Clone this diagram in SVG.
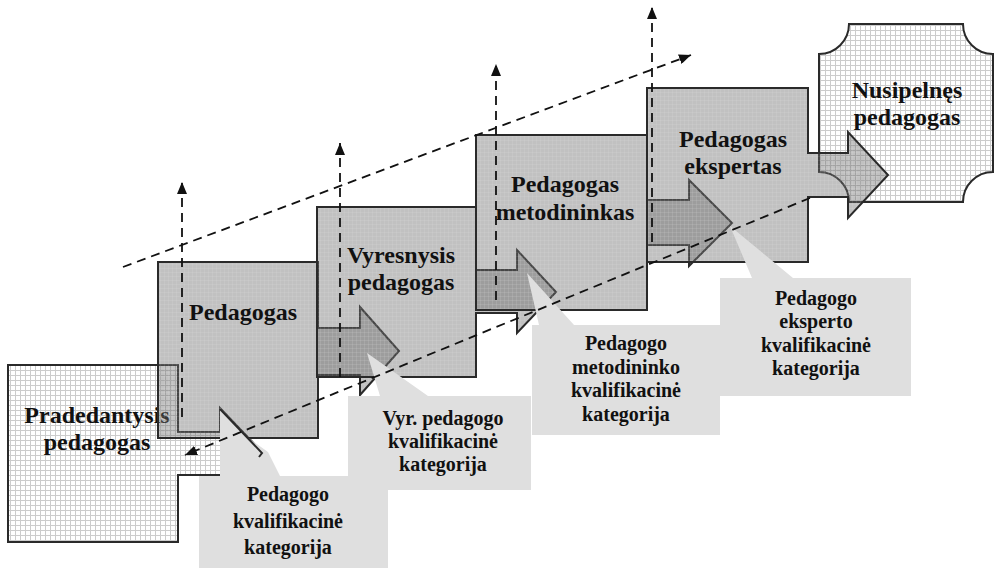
<svg xmlns="http://www.w3.org/2000/svg" width="994" height="571" viewBox="0 0 994 571">
<defs>
<pattern id="wgrid" width="5" height="5" patternUnits="userSpaceOnUse">
<rect width="5" height="5" fill="#ffffff"/>
<path d="M0,0.5 H5 M0.5,0 V5" stroke="#cccccc" stroke-width="1"/>
</pattern>
<pattern id="ggrid" width="4" height="4" patternUnits="userSpaceOnUse">
<rect width="4" height="4" fill="#6c6c6c" fill-opacity="0.42"/>
<path d="M0,0.5 H4 M0.5,0 V4" stroke="#ffffff" stroke-opacity="0.07" stroke-width="1"/>
</pattern>
<marker id="ah" viewBox="0 0 12 10" refX="12" refY="5" markerWidth="12" markerHeight="10" markerUnits="userSpaceOnUse" orient="auto">
<path d="M0,0 L12,5 L0,10 Z" fill="#111"/>
</marker>
</defs>
<style>
.blk{stroke:#2a2a2a;stroke-width:2;stroke-linejoin:miter}
.white{fill:url(#wgrid)}
.grey{fill:url(#ggrid)}
.call{fill:#dfdfdf;stroke:none}
.dash{fill:none;stroke:#111;stroke-width:1.8;stroke-dasharray:9 6;marker-end:url(#ah)}
.lbl{font-family:"Liberation Serif","Times New Roman",serif;font-weight:bold;font-size:24px;fill:#111;text-anchor:middle}
.cl{font-size:20px}
</style>
<rect width="994" height="571" fill="#ffffff"/>

<g id="pradedantysis">
<path class="blk white" d="M8,365 H178 V432 H220 V408 L263,453 L220,497 V475 H178 V542 H8 Z"/>
<text class="lbl" x="97" y="423">Pradedantysis</text>
<text class="lbl" x="97" y="450">pedagogas</text>
</g>

<g id="pedagogas">
<path class="blk grey" d="M158,262 H318 V328 H360 V307 L399,351 L360,395 V375 H318 V438 H158 Z"/>
<text class="lbl" x="243" y="320">Pedagogas</text>
</g>

<g id="vyresnysis">
<path class="blk grey" d="M317,207 H476 V270 H517 V250 L556,292 L517,333 V313 H476 V377 H317 Z"/>
<text class="lbl" x="401" y="263">Vyresnysis</text>
<text class="lbl" x="401" y="290">pedagogas</text>
</g>

<g id="metodininkas">
<path class="blk grey" d="M476,135 H647 V200 H689 V180 L732,223 L689,266 V245 H647 V310 H476 Z"/>
<text class="lbl" x="565" y="192">Pedagogas</text>
<text class="lbl" x="565" y="220">metodininkas</text>
</g>

<g id="nusipelnes">
<path class="blk white" d="M849,24 H963 A30,30 0 0 0 993,54 V172 A30,30 0 0 0 963,202 H849 A30,30 0 0 0 819,172 V54 A30,30 0 0 0 849,24 Z"/>
<text class="lbl" x="907" y="98">Nusipelnęs</text>
<text class="lbl" x="907" y="125">pedagogas</text>
</g>

<g id="ekspertas">
<path class="blk grey" d="M647,88 H808 V153 H848 V132 L888,175 L848,218 V197 H808 V262 H647 Z"/>
<text class="lbl" x="733" y="147">Pedagogas</text>
<text class="lbl" x="733" y="174">ekspertas</text>
</g>

<g id="callout-pedagogo">
<path class="call" d="M220,408 L247,437 L268,452 L280,476 H388 V568 H199 V476 H220 Z"/>
<text class="lbl cl" x="288" y="501">Pedagogo</text>
<text class="lbl cl" x="288" y="528">kvalifikacinė</text>
<text class="lbl cl" x="288" y="554">kategorija</text>
</g>

<g id="callout-vyr">
<path class="call" d="M367,353 L428,396 H531 V490 H348 V396 H380 Z"/>
<text class="lbl cl" x="443" y="425">Vyr. pedagogo</text>
<text class="lbl cl" x="443" y="448">kvalifikacinė</text>
<text class="lbl cl" x="443" y="471">kategorija</text>
</g>

<g id="callout-metodininko">
<path class="call" d="M527,273 L574,325 H720 V435 H532 V325 H539 Z"/>
<text class="lbl cl" x="626" y="350">Pedagogo</text>
<text class="lbl cl" x="626" y="374">metodininko</text>
<text class="lbl cl" x="626" y="397">kvalifikacinė</text>
<text class="lbl cl" x="626" y="421">kategorija</text>
</g>

<g id="callout-eksperto">
<path class="call" d="M730,226 L793,278 H911 V396 H720 V278 H752 Z"/>
<text class="lbl cl" x="816" y="305">Pedagogo</text>
<text class="lbl cl" x="816" y="328">eksperto</text>
<text class="lbl cl" x="816" y="352">kvalifikacinė</text>
<text class="lbl cl" x="816" y="375">kategorija</text>
</g>

<g id="pradedantysis-head-edge">
<path d="M220,409 L262,453 L259,457" fill="none" stroke="#2a2a2a" stroke-width="2"/>
</g>

<g id="connectors">
<path class="dash" d="M182,417 V182"/>
<path class="dash" d="M340,377 V143"/>
<path class="dash" d="M496,300 V64"/>
<path class="dash" d="M652,242 V7"/>
<path class="dash" d="M123,267 L691,55"/>
<path class="dash" d="M810,198 L185,455"/>
</g>
</svg>
